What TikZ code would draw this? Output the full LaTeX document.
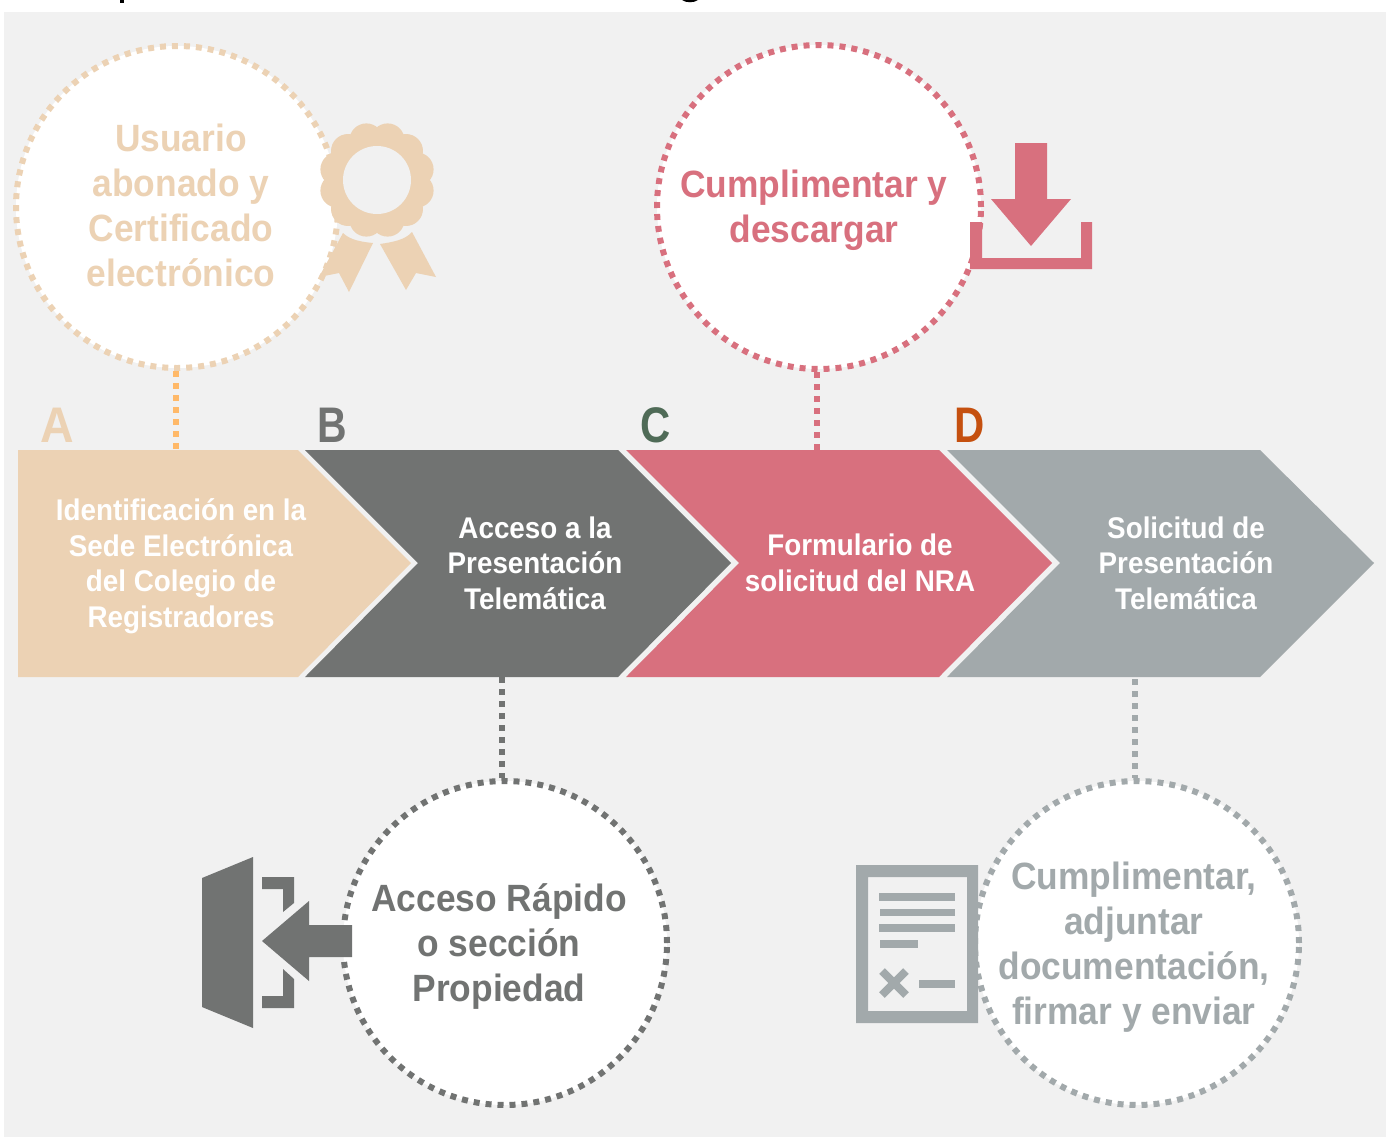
\documentclass[tikz,border=0pt]{standalone}
\usepackage{fontspec}
\setmainfont{Liberation Sans}[FakeStretch=0.93]
\definecolor{bgc}{HTML}{F1F1F1}
\definecolor{sand}{HTML}{ECD2B4}
\definecolor{slate}{HTML}{717372}
\definecolor{rose}{HTML}{D8707E}
\definecolor{steel}{HTML}{A2A9AB}
\definecolor{amber}{HTML}{FFB969}
\definecolor{moss}{HTML}{4F6B57}
\definecolor{rust}{HTML}{C5500F}
\tikzset{
  bubble/.style={circle,draw=#1,fill=white,line width=6pt,dash pattern=on 6pt off 6pt,minimum size=324pt,inner sep=0pt},
  bubbletext/.style={text=#1,align=center,inner sep=0pt,font=\fontsize{38}{45}\selectfont\bfseries},
  link/.style={draw=#1,line width=6pt,dash pattern=on 6pt off 6pt},
  chev/.style={fill=#1},
  chevtext/.style={text=white,align=center,inner sep=0pt,font=\fontsize{29.9}{35.5}\selectfont\bfseries},
  letter/.style={text=#1,inner sep=0pt,font=\fontsize{50}{50}\selectfont\bfseries}
}
\begin{document}
\begin{tikzpicture}[x=1pt,y=-1pt]
\useasboundingbox (0,0) rectangle (1386,1138);
\fill[bgc] (4,12) rectangle (1386,1137);
% chevrons
\fill[chev=sand] (18,450)--(298,450)--(411,563)--(298,677)--(18,677)--cycle;
\fill[chev=slate] (305,450)--(618,450)--(731,563)--(618,677)--(305,677)--(418,563)--cycle;
\fill[chev=rose] (626,450)--(939,450)--(1052,563)--(939,677)--(626,677)--(739,563)--cycle;
\fill[chev=steel] (947,450)--(1260,450)--(1374,563)--(1260,677)--(947,677)--(1060,563)--cycle;
\coordinate (pa) at (176,450);
\coordinate (pb) at (502,677);
\coordinate (pc) at (817,450);
\coordinate (pd) at (1135,679);
\node[chevtext] (ta) at (181,566) {Identificación en la\\Sede Electrónica\\del Colegio de\\Registradores};
\node[chevtext] (tb) at (535,563) {Acceso a la\\Presentación\\Telemática};
\node[chevtext] (tc) at (860,563) {Formulario de\\solicitud del NRA};
\node[chevtext] (td) at (1186,563) {Solicitud de\\Presentación\\Telemática};
\node[letter=sand] (la) at (57,425) {A};
\node[letter=slate] (lb) at (332,425) {\scalebox{.88}[1]{B}};
\node[letter=moss] (lc) at (656,425) {\scalebox{.9}[1]{C}};
\node[letter=rust] (ld) at (970,425) {\scalebox{.9}[1]{D}};
% bubbles
\node[bubble=sand,minimum size=322pt] (ca) at (177,207) {};
\node[bubble=rose] (cc) at (819,207) {};
\node[bubble=slate] (cb) at (505,943) {};
\node[bubble=steel] (cd) at (1137,943) {};
\node[bubbletext=sand] (xa) at (181,205) {Usuario\\abonado y\\Certificado\\electrónico};
\node[bubbletext=rose] (xc) at (814,210) {Cumplimentar y\\descargar};
\node[bubbletext=slate] (xb) at (499,946) {Acceso Rápido\\o sección\\Propiedad};
\node[bubbletext=steel] (xd) at (1134,947) {Cumplimentar,\\adjuntar\\documentación,\\firmar y enviar};
% connectors
\draw[link=amber] (pa |- ca.south) -- (pa);
\draw[link=rose] (pc |- cc.south) -- (pc);
\draw[link=slate] (pb) -- (pb |- cb.north);
\draw[link=steel] (pd) -- (pd |- cd.north);
% rosette
\fill[sand] (343,233) .. controls (350,240) and (362,242) .. (373,243) -- (349,292) -- (339,273) -- (319,277) -- cycle;
\fill[sand] (412,232) .. controls (405,240) and (393,242) .. (380,244) -- (406,290) -- (416,273) -- (436,277) -- cycle;
\fill[sand] (377,180) circle (52pt);
\foreach \a in {0,30,...,330} \fill[sand] (377,180) ++(\a+15:41pt) circle (17pt);
\fill[bgc] (377,180) circle (34pt);
% download
\fill[rose] (1015,143)--(1047,143)--(1047,199)--(1071,199)--(1031,246)--(991,199)--(1015,199)--cycle;
\fill[rose] (970,222)--(982,222)--(982,258)--(1081,258)--(1081,222)--(1092,222)--(1092,269)--(970,269)--cycle;
% door
\fill[slate] (202,878)--(253,857)--(253,1028)--(202,1007)--cycle;
\fill[slate] (262,877)--(294,877)--(294,903)--(283,912)--(283,889)--(262,889)--cycle;
\fill[slate] (262,1008)--(294,1008)--(294,979)--(283,969)--(283,996)--(262,996)--cycle;
\fill[slate] (262,941)--(309,901)--(309,925)--(352,925)--(352,957)--(309,957)--(309,981)--cycle;
% document
\fill[bgc] (868,877) rectangle (967,1011);
\fill[steel,even odd rule] (856,865) rectangle (978,1023) (868,877) rectangle (967,1011);
\fill[steel] (879,893) rectangle (955,901);
\fill[steel] (880,909) rectangle (955,916);
\fill[steel] (879,924) rectangle (955,932);
\fill[steel] (880,940) rectangle (918,948);
\fill[steel] (919,980) rectangle (955,988);
\draw[steel,line width=8pt] (882,971)--(906,995) (906,971)--(882,995);
% clipped remains of the title
\fill[black] (120,0) rectangle (124,3);
\fill[black] (682,0) .. controls (686,3) and (694,3) .. (698,0) -- cycle;
\end{tikzpicture}
\end{document}
